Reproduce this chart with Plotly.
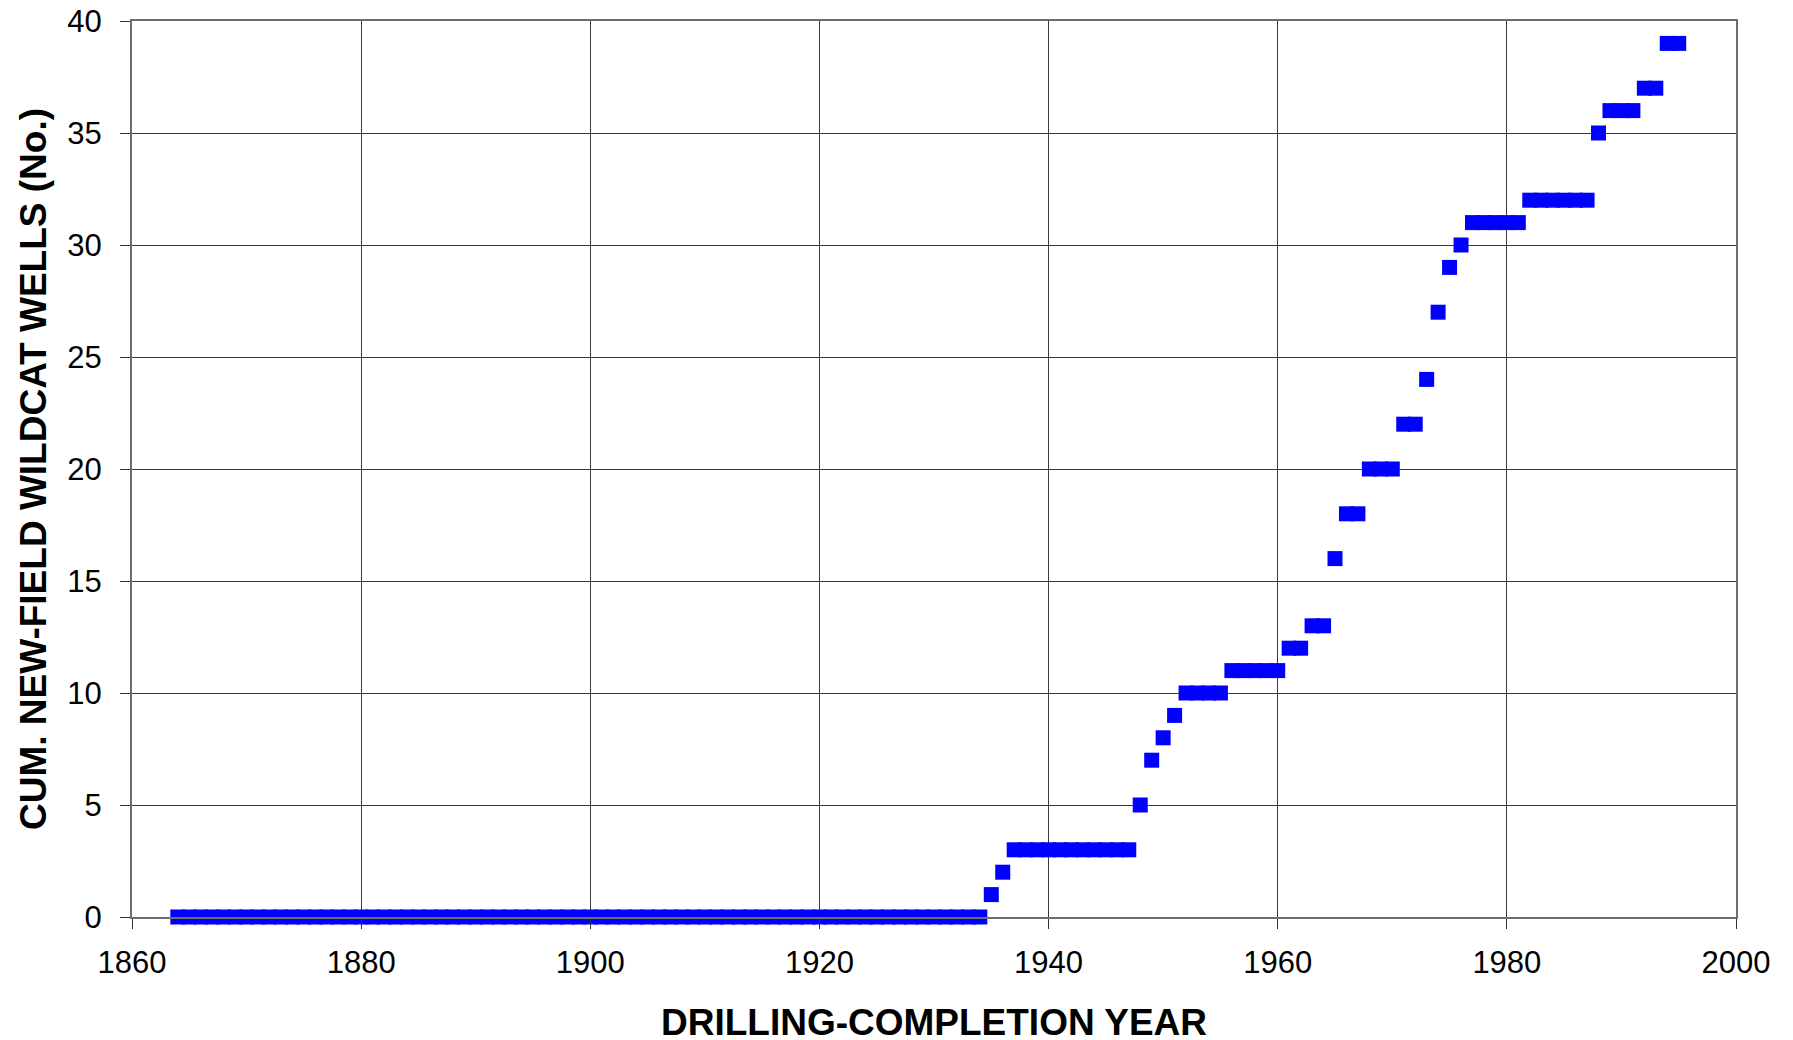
import plotly.graph_objects as go

years = list(range(1864, 1996))
cum_wells = [
    0, 0, 0, 0, 0, 0, 0, 0, 0, 0, 0, 0, 0, 0, 0, 0, 0, 0, 0, 0,  # 1864-1883
    0, 0, 0, 0, 0, 0, 0, 0, 0, 0, 0, 0, 0, 0, 0, 0, 0, 0, 0, 0,  # 1884-1903
    0, 0, 0, 0, 0, 0, 0, 0, 0, 0, 0, 0, 0, 0, 0, 0, 0, 0, 0, 0,  # 1904-1923
    0, 0, 0, 0, 0, 0, 0, 0, 0, 0, 0,                             # 1924-1934
    1, 2,                                                        # 1935-1936
    3, 3, 3, 3, 3, 3, 3, 3, 3, 3, 3,                             # 1937-1947
    5, 7, 8, 9,                                                  # 1948-1951
    10, 10, 10, 10,                                              # 1952-1955
    11, 11, 11, 11, 11,                                          # 1956-1960
    12, 12, 13, 13, 16, 18, 18,                                  # 1961-1967
    20, 20, 20, 22, 22, 24, 27, 29, 30,                          # 1968-1976
    31, 31, 31, 31, 31,                                          # 1977-1981
    32, 32, 32, 32, 32, 32,                                      # 1982-1987
    35, 36, 36, 36, 37, 37, 39, 39,                              # 1988-1995
]

x_ticks = [1860, 1880, 1900, 1920, 1940, 1960, 1980, 2000]
y_ticks = [0, 5, 10, 15, 20, 25, 30, 35, 40]

FONT = "Liberation Sans, Arial, sans-serif"

fig = go.Figure()
fig.add_trace(go.Scatter(
    x=years, y=cum_wells, mode="markers",
    marker=dict(symbol="square", size=15, color="#0000FF",
                line=dict(width=0)),
    cliponaxis=False, showlegend=False,
))

fig.update_layout(
    width=1793, height=1040, autosize=False,
    margin=dict(l=124, r=65, t=13, b=131),
    paper_bgcolor="white", plot_bgcolor="white",
    font=dict(family=FONT, color="black"),
)
fig.update_xaxes(
    range=[1860, 2000], tickvals=x_ticks,
    ticktext=[str(v) for v in x_ticks],
    tickfont=dict(size=31, family=FONT),
    showgrid=True, gridcolor="#3a3a3a", gridwidth=1,
    showline=True, linecolor="#6e6e6e", linewidth=2, mirror=True,
    ticks="outside", ticklen=10, tickcolor="#333333", tickwidth=1,
    ticklabelstandoff=7, ticklabeloverflow="allow",
    zeroline=False, automargin=False,
    title=dict(text="<b>DRILLING-COMPLETION YEAR</b>",
               font=dict(size=37, family=FONT), standoff=30),
)
fig.update_yaxes(
    range=[0, 40], tickvals=y_ticks,
    tickfont=dict(size=31, family=FONT),
    showgrid=True, gridcolor="#3a3a3a", gridwidth=1,
    showline=True, linecolor="#6e6e6e", linewidth=2, mirror=True,
    ticks="outside", ticklen=10, tickcolor="#333333", tickwidth=1,
    ticklabelstandoff=12, ticklabeloverflow="allow",
    zeroline=False, automargin=False,
    title=dict(text="<b>CUM. NEW-FIELD WILDCAT WELLS (No.)</b>",
               font=dict(size=37, family=FONT), standoff=9),
)

fig.write_html("out.html")
